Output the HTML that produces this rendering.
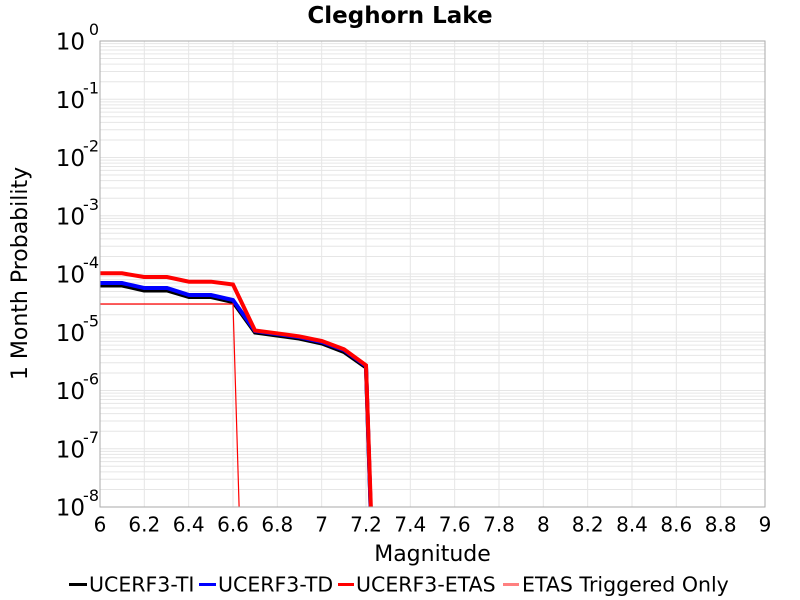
<!DOCTYPE html>
<html><head><meta charset="utf-8"><style>
html,body{margin:0;padding:0;background:#fff;}
svg{display:block;font-family:"DejaVu Sans","Liberation Sans",sans-serif;}
</style></head><body>
<svg width="800" height="600" viewBox="0 0 800 600" xmlns="http://www.w3.org/2000/svg">
<defs>
<clipPath id="pc"><rect x="100" y="41" width="665" height="466"/></clipPath>
<g id="dec" stroke="#e6e6e6" stroke-width="1">
<line x1="100" x2="765" y1="41" y2="41"/>
<line x1="100" x2="765" y1="43.67" y2="43.67"/>
<line x1="100" x2="765" y1="46.65" y2="46.65"/>
<line x1="100" x2="765" y1="50.02" y2="50.02"/>
<line x1="100" x2="765" y1="53.92" y2="53.92"/>
<line x1="100" x2="765" y1="58.54" y2="58.54"/>
<line x1="100" x2="765" y1="64.18" y2="64.18"/>
<line x1="100" x2="765" y1="71.46" y2="71.46"/>
<line x1="100" x2="765" y1="81.72" y2="81.72"/>
</g>
</defs>
<rect width="800" height="600" fill="#fff"/>
<use href="#dec"/>
<use href="#dec" transform="translate(0,58.25)"/>
<use href="#dec" transform="translate(0,116.5)"/>
<use href="#dec" transform="translate(0,174.75)"/>
<use href="#dec" transform="translate(0,233)"/>
<use href="#dec" transform="translate(0,291.25)"/>
<use href="#dec" transform="translate(0,349.5)"/>
<use href="#dec" transform="translate(0,407.75)"/>
<g stroke="#e6e6e6" stroke-width="1">
<line x1="144.33" x2="144.33" y1="41" y2="507"/>
<line x1="188.67" x2="188.67" y1="41" y2="507"/>
<line x1="233" x2="233" y1="41" y2="507"/>
<line x1="277.33" x2="277.33" y1="41" y2="507"/>
<line x1="321.67" x2="321.67" y1="41" y2="507"/>
<line x1="366" x2="366" y1="41" y2="507"/>
<line x1="410.33" x2="410.33" y1="41" y2="507"/>
<line x1="454.67" x2="454.67" y1="41" y2="507"/>
<line x1="499" x2="499" y1="41" y2="507"/>
<line x1="543.33" x2="543.33" y1="41" y2="507"/>
<line x1="587.67" x2="587.67" y1="41" y2="507"/>
<line x1="632" x2="632" y1="41" y2="507"/>
<line x1="676.33" x2="676.33" y1="41" y2="507"/>
<line x1="720.67" x2="720.67" y1="41" y2="507"/>
</g>
<g clip-path="url(#pc)" fill="none" stroke-linejoin="miter">
<polyline stroke="#000" stroke-width="4" points="100,285.5 122,285.5 144,290.5 167,290.5 189,297 211,297 233,302 255,332.5 277,335.5 299,338.5 322,343.5 344,352 366,367.5 371,520"/>
<polyline stroke="#0000ff" stroke-width="4" points="100,283 122,283 144,288 167,288 189,295 211,295 233,300 255,331 277,334 299,337 322,342 344,350 366,366 371,520"/>
<polyline stroke="#ff0000" stroke-width="4" points="100,273.3 122,273.3 144,277 167,277 189,281.7 211,281.7 233,284.5 255,330.5 277,333.3 299,336.3 322,341 344,349.3 366,365.3 371.3,520"/>
<polyline stroke="#ff0000" stroke-width="1.2" points="100,304 233,304 239.5,520"/>
</g>
<rect x="100" y="41" width="665" height="466" fill="none" stroke="#aaaaaa" stroke-width="1"/>
<text x="400" y="23" font-size="23" font-weight="bold" text-anchor="middle" fill="#000">Cleghorn Lake</text>
<g fill="#000">
<text x="85" y="49.5" font-size="23" text-anchor="end">10</text><text x="99" y="35" font-size="16" text-anchor="end">0</text>
<text x="85" y="107.75" font-size="23" text-anchor="end">10</text><text x="99" y="93.25" font-size="16" text-anchor="end">-1</text>
<text x="85" y="166" font-size="23" text-anchor="end">10</text><text x="99" y="151.5" font-size="16" text-anchor="end">-2</text>
<text x="85" y="224.25" font-size="23" text-anchor="end">10</text><text x="99" y="209.75" font-size="16" text-anchor="end">-3</text>
<text x="85" y="282.5" font-size="23" text-anchor="end">10</text><text x="99" y="268" font-size="16" text-anchor="end">-4</text>
<text x="85" y="340.75" font-size="23" text-anchor="end">10</text><text x="99" y="326.25" font-size="16" text-anchor="end">-5</text>
<text x="85" y="399" font-size="23" text-anchor="end">10</text><text x="99" y="384.5" font-size="16" text-anchor="end">-6</text>
<text x="85" y="457.25" font-size="23" text-anchor="end">10</text><text x="99" y="442.75" font-size="16" text-anchor="end">-7</text>
<text x="85" y="515.5" font-size="23" text-anchor="end">10</text><text x="99" y="501" font-size="16" text-anchor="end">-8</text>
</g>
<g fill="#000" font-size="20" text-anchor="middle">
<text x="100" y="531.5">6</text>
<text x="144.33" y="531.5">6.2</text>
<text x="188.67" y="531.5">6.4</text>
<text x="233" y="531.5">6.6</text>
<text x="277.33" y="531.5">6.8</text>
<text x="321.67" y="531.5">7</text>
<text x="366" y="531.5">7.2</text>
<text x="410.33" y="531.5">7.4</text>
<text x="454.67" y="531.5">7.6</text>
<text x="499" y="531.5">7.8</text>
<text x="543.33" y="531.5">8</text>
<text x="587.67" y="531.5">8.2</text>
<text x="632" y="531.5">8.4</text>
<text x="676.33" y="531.5">8.6</text>
<text x="720.67" y="531.5">8.8</text>
<text x="765" y="531.5">9</text>
</g>
<text x="432.5" y="561" font-size="22" text-anchor="middle" fill="#000">Magnitude</text>
<text transform="translate(27,273.5) rotate(-90)" font-size="22" text-anchor="middle" fill="#000">1 Month Probability</text>
<g font-size="20.5" fill="#000">
<line x1="69" x2="87" y1="584.5" y2="584.5" stroke="#000" stroke-width="3"/>
<text x="89" y="591.5">UCERF3-TI</text>
<line x1="199" x2="216" y1="584.5" y2="584.5" stroke="#0000ff" stroke-width="3"/>
<text x="218" y="591.5">UCERF3-TD</text>
<line x1="338" x2="354" y1="584.5" y2="584.5" stroke="#ff0000" stroke-width="3"/>
<text x="356" y="591.5">UCERF3-ETAS</text>
<line x1="503" x2="519" y1="584.5" y2="584.5" stroke="#ff8080" stroke-width="3"/>
<text x="522" y="591.5">ETAS Triggered Only</text>
</g>
</svg>
</body></html>
